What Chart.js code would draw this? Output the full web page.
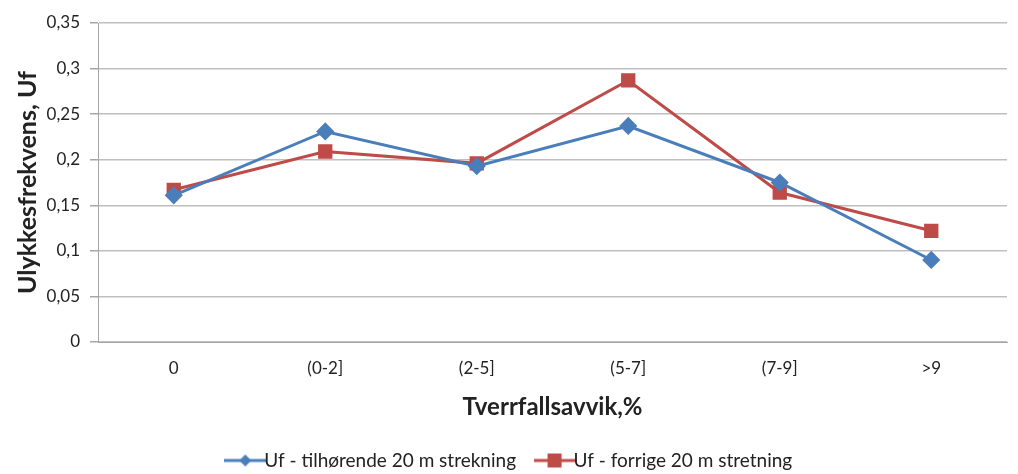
<!DOCTYPE html>
<html>
<head>
<meta charset="utf-8">
<script src="https://cdn.jsdelivr.net/npm/chart.js@4"></script>
<style>
  html, body { margin: 0; padding: 0; background: #fff; }
  #wrap { width: 1018px; height: 474px; }
</style>
</head>
<body>
<div id="wrap"><canvas id="chart" width="1018" height="474"></canvas></div>
<script>
// categories on x axis
const categories = ["0", "(0-2]", "(2-5]", "(5-7]", "(7-9]", ">9"];

// series values
const ufTilhorende = [0.161, 0.231, 0.193, 0.237, 0.175, 0.090];
const ufForrige = [0.167, 0.209, 0.196, 0.287, 0.164, 0.122];

const seriesNames = ["Uf - tilhørende 20 m strekning", "Uf - forrige 20 m stretning"];

const blue = "#4a7ebb";
const red = "#be4b48";
const fontFamily = "Lato, 'Open Sans', sans-serif";

// little legend icon: line with marker in the middle
function legendIcon(color, shape) {
  const c = document.createElement("canvas");
  c.width = 42; c.height = 16;
  const ctx = c.getContext("2d");
  ctx.strokeStyle = color;
  ctx.lineWidth = 3;
  ctx.beginPath();
  ctx.moveTo(0, 8); ctx.lineTo(42, 8);
  ctx.stroke();
  ctx.fillStyle = color;
  ctx.beginPath();
  if (shape === "diamond") {
    ctx.moveTo(21, 2); ctx.lineTo(27, 8); ctx.lineTo(21, 14); ctx.lineTo(15, 8);
  } else {
    ctx.rect(14, 1, 14, 14);
  }
  ctx.closePath();
  ctx.fill();
  return c;
}
const icons = [legendIcon(blue, "diamond"), legendIcon(red, "square")];

// keep the legend short so the wide item spacing doesn't eat the plot
const legendHeight = {
  id: "legendHeight",
  beforeLayout(chart) {
    const lg = chart.legend;
    if (!lg || lg._patched) return;
    const orig = lg.fit.bind(lg);
    lg.fit = function () { orig(); this.height = 48; };
    lg._patched = true;
  },
};

new Chart(document.getElementById("chart"), {
  type: "line",
  plugins: [legendHeight],
  data: {
    labels: categories,
    datasets: [
      {
        label: seriesNames[0],
        data: ufTilhorende,
        borderColor: blue,
        backgroundColor: blue,
        borderWidth: 3,
        pointStyle: "rectRot",
        pointRadius: 7,
        pointHoverRadius: 7,
        tension: 0,
      },
      {
        label: seriesNames[1],
        data: ufForrige,
        borderColor: red,
        backgroundColor: red,
        borderWidth: 3,
        pointStyle: "rect",
        pointRadius: 8,
        pointHoverRadius: 8,
        tension: 0,
      },
    ],
  },
  options: {
    responsive: false,
    animation: false,
    layout: { padding: { top: 23, right: 0, left: 10, bottom: 4 } },
    plugins: {
      tooltip: { enabled: false },
      legend: {
        position: "bottom",
        labels: {
          color: "#222",
          font: { family: fontFamily, size: 19 },
          boxWidth: 42,
          boxHeight: 16,
          padding: 29,
          usePointStyle: true,
          generateLabels: (chart) => chart.data.datasets.map((ds, i) => ({
            text: ds.label,
            pointStyle: icons[i],
            fillStyle: ds.borderColor,
            strokeStyle: ds.borderColor,
            lineWidth: 0,
            hidden: false,
            datasetIndex: i,
            fontColor: "#222",
          })),
        },
      },
    },
    scales: {
      x: {
        offset: true,
        grid: { display: false, drawTicks: false },
        border: { color: "#a6a6a6", width: 1 },
        ticks: { color: "#222", font: { family: fontFamily, size: 17 }, padding: 16, maxRotation: 0 },
        title: {
          display: true,
          text: "Tverrfallsavvik,%",
          color: "#222",
          font: { family: fontFamily, size: 24, weight: "bold" },
          padding: { top: 0, bottom: 0 },
        },
        afterFit: (s) => { s.height = 80; },
      },
      y: {
        min: 0,
        max: 0.35,
        ticks: {
          stepSize: 0.05,
          color: "#222",
          font: { family: fontFamily, size: 17 },
          padding: 10,
          callback: (v) => String(+v.toFixed(2)).replace(".", ","),
        },
        grid: { color: "#bfbfbf", lineWidth: 1.5, tickLength: 8, tickColor: "#a6a6a6" },
        border: { color: "#a6a6a6", width: 1 },
        title: {
          display: true,
          text: "Ulykkesfrekvens, Uf",
          color: "#222",
          font: { family: fontFamily, size: 25, weight: "bold" },
          padding: { top: 3, bottom: 4 },
        },
        afterFit: (s) => { s.width = 88; },
      },
    },
  },
});
</script>
</body>
</html>
